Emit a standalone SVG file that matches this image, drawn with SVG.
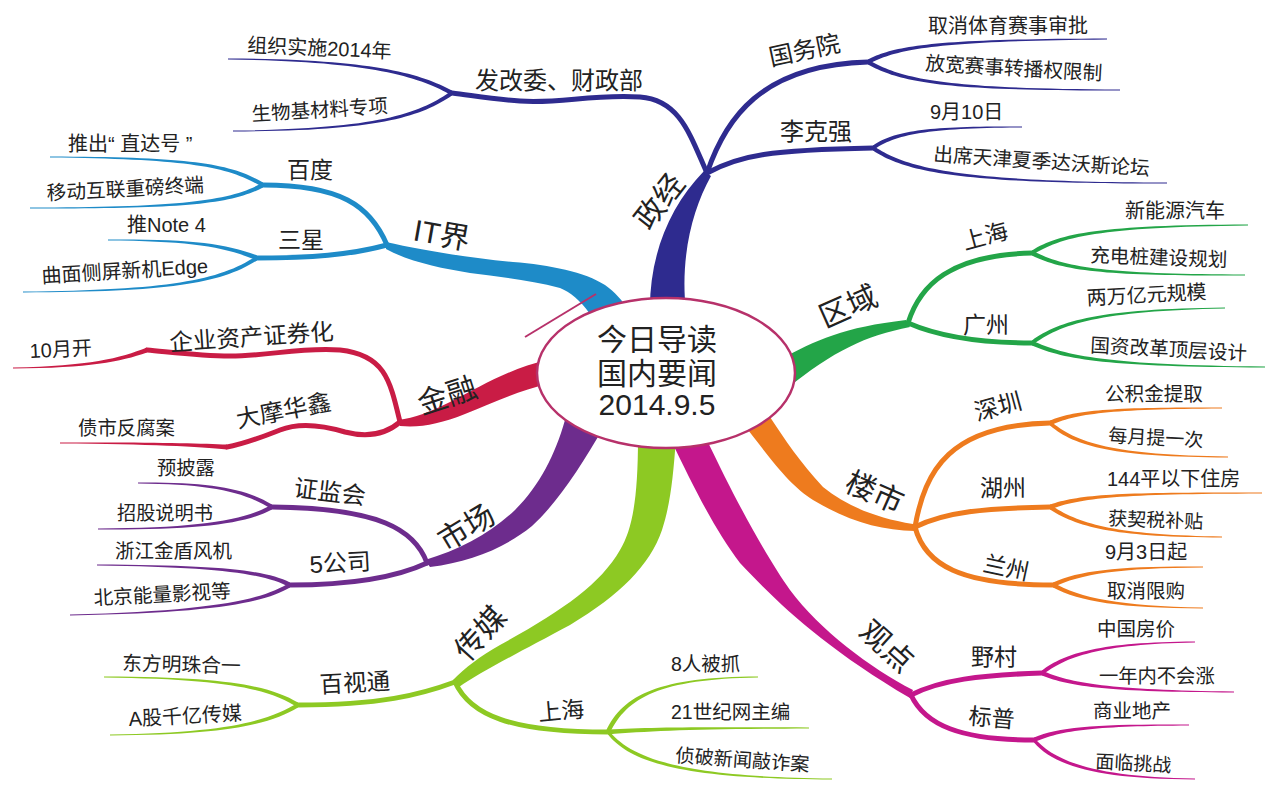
<svg xmlns="http://www.w3.org/2000/svg" width="1280" height="802" viewBox="0 0 1280 802">
<style>
text{font-family:"Liberation Sans","Noto Sans CJK SC",sans-serif;fill:#222}
.leaf{font-size:20px}
.sub{font-size:24px}
.main{font-size:30px;text-anchor:middle}
.center{font-size:30px;text-anchor:middle}
.s{fill:none;stroke:currentColor;stroke-width:5;stroke-linecap:round;stroke-linejoin:round}
.t,.l{fill:currentColor}
.zj{color:#2e2b8f}.it{color:#1e8bc8}.qy{color:#23a548}.ls{color:#ee7b1e}
.gd{color:#c4178c}.cm{color:#8dc923}.sc{color:#6d2c8d}.jr{color:#c91c45}
</style>
<rect width="1280" height="802" fill="#fff"/>
<g id="connectors">
<g class="zj">
<path class="t" d="M650,312 C649,258 668,208 704,171 L711,176 C692,210 680,258 686,312 Z"/>
<path class="s" d="M707,173 C690,135 680,100 640,97 C590,94 560,104 520,101 C490,99 470,95 452,93"/>
<path class="s" d="M707,173 C725,120 760,65 868,62"/>
<path class="s" d="M707,173 C740,155 770,150 873,148"/>
<path class="l" d="M452,90.5 C420,73.2 370,59 228,58.5 L228,59.5 C370,61 420,76.8 452,95.5Z"/>
<path class="l" d="M452,90.5 C420,113.2 380,129 233,130.5 L233,131.5 C380,131 420,116.8 452,95.5Z"/>
<path class="l" d="M868,59.5 C895,46.2 930,39 1107,38.5 L1107,39.5 C930,41 895,49.8 868,64.5Z"/>
<path class="l" d="M868,59.5 C900,78.2 940,89 1120,89.5 L1120,90.5 C940,91 900,81.8 868,64.5Z"/>
<path class="l" d="M873,145.5 C895,130.2 930,126 1022,126.5 L1022,127.5 C930,128 895,133.8 873,150.5Z"/>
<path class="l" d="M873,145.5 C905,168.2 960,182 1167,182.5 L1167,183.5 C960,184 905,171.8 873,150.5Z"/>
</g>
<g class="it">
<path class="t" d="M386,242 C420,250 470,258 513,262 C550,265 585,272 605,285 C615,292 622,300 630,312 L590,314 C580,300 570,292 560,288 C530,280 500,277 470,273 C440,268 410,262 386,249 Z"/>
<path class="s" d="M387,245 C370,205 340,185 263,185"/>
<path class="s" d="M387,245 C350,255 310,258 257,258"/>
<path class="l" d="M263,182.5 C230,163.2 190,157 50,156.5 L50,157.5 C190,159 230,166.8 263,187.5Z"/>
<path class="l" d="M263,182.5 C230,201.2 180,207 30,207.5 L30,208.5 C180,209 230,204.8 263,187.5Z"/>
<path class="l" d="M257,255.5 C225,243.2 190,239 108,239.5 L108,240.5 C190,241 225,246.8 257,260.5Z"/>
<path class="l" d="M257,255.5 C220,280.2 170,290 23,291.5 L23,292.5 C170,292 220,283.8 257,260.5Z"/>
</g>
<g class="qy">
<path class="t" d="M780,360 C815,340 845,327 906,320 L910,327 C865,336 835,350 785,390 Z"/>
<path class="s" d="M908,323 C920,285 950,255 1032,253"/>
<path class="s" d="M908,323 C940,337 980,343 1032,343"/>
<path class="l" d="M1032,250.5 C1060,233.2 1100,225 1248,224.5 L1248,225.5 C1100,227 1060,236.8 1032,255.5Z"/>
<path class="l" d="M1032,250.5 C1065,268.2 1110,274 1245,274.5 L1245,275.5 C1110,276 1065,271.8 1032,255.5Z"/>
<path class="l" d="M1032,340.5 C1060,320.2 1100,309 1225,307.5 L1225,308.5 C1100,311 1060,323.8 1032,345.5Z"/>
<path class="l" d="M1032,340.5 C1065,356.2 1110,365 1265,366.5 L1265,367.5 C1110,367 1065,359.8 1032,345.5Z"/>
</g>
<g class="ls">
<path class="t" d="M768,414 C785,440 800,462 823,487 C845,505 875,518 913,524 L915,531 C880,530 850,522 813,500 C790,485 775,465 742,422 Z"/>
<path class="s" d="M915,527 C925,470 950,425 1050,423"/>
<path class="s" d="M915,527 C945,512 985,508 1050,507"/>
<path class="s" d="M915,527 C925,565 960,585 1053,585"/>
<path class="l" d="M1050,420.5 C1075,410.2 1110,407 1222,407.5 L1222,408.5 C1110,409 1075,413.8 1050,425.5Z"/>
<path class="l" d="M1050,420.5 C1075,443.2 1115,455 1228,456.5 L1228,457.5 C1115,457 1075,446.8 1050,425.5Z"/>
<path class="l" d="M1050,504.5 C1080,494.2 1120,492 1262,492.5 L1262,493.5 C1120,494 1080,497.8 1050,509.5Z"/>
<path class="l" d="M1050,504.5 C1080,525.2 1120,535 1222,536.5 L1222,537.5 C1120,537 1080,528.8 1050,509.5Z"/>
<path class="l" d="M1053,582.5 C1080,570.2 1120,566 1203,566.5 L1203,567.5 C1120,568 1080,573.8 1053,587.5Z"/>
<path class="l" d="M1053,582.5 C1080,598.2 1120,606 1203,607.5 L1203,608.5 C1120,608 1080,601.8 1053,587.5Z"/>
</g>
<g class="gd">
<path class="t" d="M670,438 C695,490 715,530 740,563 C775,600 820,645 910,698 L913,690 C870,668 820,630 790,590 C770,562 740,510 706,438 Z"/>
<path class="s" d="M911,695 C940,680 980,675 1042,673"/>
<path class="s" d="M911,695 C925,725 960,740 1034,740"/>
<path class="l" d="M1042,670.5 C1065,653.2 1100,642 1195,641.5 L1195,642.5 C1100,644 1065,656.8 1042,675.5Z"/>
<path class="l" d="M1042,670.5 C1070,683.2 1110,690 1234,691.5 L1234,692.5 C1110,692 1070,686.8 1042,675.5Z"/>
<path class="l" d="M1034,737.5 C1060,726.2 1100,724 1189,724.5 L1189,725.5 C1100,726 1060,729.8 1034,742.5Z"/>
<path class="l" d="M1034,737.5 C1055,763.2 1100,777 1195,778.5 L1195,779.5 C1100,779 1055,766.8 1034,742.5Z"/>
</g>
<g class="cm">
<path class="t" d="M638,438 C638,500 632,530 620,550 C600,585 560,612 500,645 C480,656 465,668 453,680 L459,687 C480,672 520,652 570,625 C620,595 650,565 662,530 C670,505 673,480 676,438 Z"/>
<path class="s" d="M455,682 C420,695 380,705 298,705"/>
<path class="s" d="M455,682 C470,715 510,732 608,732"/>
<path class="l" d="M606,731 C623,694.5 660,677 758,676.5 L758,677.5 C660,679 627,697.5 610,733Z"/>
<path class="l" d="M608,729.5 C650,727.2 700,727 809,727.5 L809,728.5 C700,729 650,730.8 608,734.5Z"/>
<path class="l" d="M608,729.5 C630,758.2 680,777 832,778.5 L832,779.5 C680,779 630,761.8 608,734.5Z"/>
<path class="l" d="M298,702.5 C270,686.2 230,677 104,676.5 L104,677.5 C230,679 270,689.8 298,707.5Z"/>
<path class="l" d="M298,702.5 C270,720.2 230,733 110,734.5 L110,735.5 C230,735 270,723.8 298,707.5Z"/>
</g>
<g class="sc">
<path class="t" d="M565,420 C555,455 540,485 515,510 C492,532 460,550 425,560 L430,567 C470,562 505,548 532,526 C558,502 580,468 605,425 Z"/>
<path class="s" d="M427,563 C415,530 380,508 272,507"/>
<path class="s" d="M427,563 C395,578 350,585 290,585"/>
<path class="l" d="M272,504.5 C245,488.2 210,482 138,482.5 L138,483.5 C210,484 245,491.8 272,509.5Z"/>
<path class="l" d="M272,504.5 C245,520.2 200,528 98,528.5 L98,529.5 C200,530 245,523.8 272,509.5Z"/>
<path class="l" d="M290,582.5 C265,570.2 220,565 97,564.5 L97,565.5 C220,567 265,573.8 290,587.5Z"/>
<path class="l" d="M290,582.5 C265,598.2 220,611 70,614.5 L70,615.5 C220,613 265,601.8 290,587.5Z"/>
</g>
<g class="jr">
<path class="t" d="M548,360 C510,368 480,387 450,402 C430,412 415,418 398,420 L400,426 C420,428 440,424 465,414 C495,402 520,390 548,384 Z"/>
<path class="s" d="M400,422 C390,380 385,355 340,350 C300,347 270,356 230,356 C200,356 170,352 147,350"/>
<path class="s" d="M400,422 C385,435 365,437 345,432 C325,426 300,422 280,430 C262,437 245,444 227,447"/>
<path class="l" d="M147,347.5 C120,358.2 90,366 13,367.5 L13,368.5 C90,368 120,361.8 147,352.5Z"/>
<path class="l" d="M227,444.5 C200,443.2 150,442 60,442.5 L60,443.5 C150,444 200,446.8 227,449.5Z"/>
</g>
</g>
<g id="center">
<ellipse cx="666" cy="373" rx="129" ry="75" fill="#fff" stroke="#b7316a" stroke-width="2.5"/>
<path d="M525,337 L596,294" fill="none" stroke="#b7316a" stroke-width="2"/>
<text class="center" x="657" y="350">今日导读</text>
<text class="center" x="657" y="384">国内要闻</text>
<text class="center" x="657" y="415">2014.9.5</text>
</g>
<g id="n-zhengjing"><text class="main" transform="translate(659,201) rotate(-52)" y="11">政经</text></g>
<g id="n-itjie"><text class="main" style="text-anchor:start" x="412" y="240" transform="rotate(10 412 240)">IT界</text></g>
<g id="n-quyu"><text class="main" transform="translate(848,306) rotate(-24)" y="11">区域</text></g>
<g id="n-loushi"><text class="main" transform="translate(875,492) rotate(24)" y="11">楼市</text></g>
<g id="n-guandian"><text class="main" transform="translate(887,646) rotate(42)" y="11">观点</text></g>
<g id="n-chuanmei"><text class="main" transform="translate(480,633) rotate(-48)" y="11">传媒</text></g>
<g id="n-shichang"><text class="main" transform="translate(466,527) rotate(-31)" y="11">市场</text></g>
<g id="n-jinrong"><text class="main" transform="translate(447,395) rotate(-18)" y="11">金融</text></g>
<g id="n-fagaiwei"><text class="sub" x="475" y="89">发改委、财政部</text></g>
<g id="n-guowuyuan"><text class="sub" x="771" y="66" transform="rotate(-12 771 66)">国务院</text></g>
<g id="n-likeqiang"><text class="sub" x="780" y="140">李克强</text></g>
<g id="n-baidu"><text class="sub" x="287" y="178" style="font-size:23px">百度</text></g>
<g id="n-sanxing"><text class="sub" x="278" y="248" style="font-size:23px">三星</text></g>
<g id="n-shanghai1"><text class="sub" x="965" y="250" style="font-size:23px" transform="rotate(-15 965 250)">上海</text></g>
<g id="n-guangzhou"><text class="sub" x="963" y="333" style="font-size:23px">广州</text></g>
<g id="n-shenzhen"><text class="sub" x="977" y="421" transform="rotate(-15 977 421)">深圳</text></g>
<g id="n-huzhou"><text class="sub" x="980" y="496" style="font-size:23px">湖州</text></g>
<g id="n-lanzhou"><text class="sub" x="982" y="571" style="font-size:23px" transform="rotate(12 982 571)">兰州</text></g>
<g id="n-yecun"><text class="sub" x="971" y="665" style="font-size:23px">野村</text></g>
<g id="n-biaopu"><text class="sub" x="968" y="724" style="font-size:23px" transform="rotate(5 968 724)">标普</text></g>
<g id="n-shanghai2"><text class="sub" x="539" y="721" style="font-size:23px" transform="rotate(-5 539 721)">上海</text></g>
<g id="n-baishitong"><text class="sub" x="320" y="693" style="font-size:23.5px" transform="rotate(-3 320 693)">百视通</text></g>
<g id="n-zhengjianhui"><text class="sub" x="293" y="496" transform="rotate(7 293 496)">证监会</text></g>
<g id="n-5gongsi"><text class="sub" x="310" y="573" transform="rotate(-3 310 573)">5公司</text></g>
<g id="n-qiye"><text class="sub" x="170" y="351" style="font-size:23.5px" transform="rotate(-4 170 351)">企业资产证券化</text></g>
<g id="n-damo"><text class="sub" x="238" y="428" transform="rotate(-11 238 428)">大摩华鑫</text></g>
<g id="n-l1"><text class="leaf" x="247" y="52" transform="rotate(2.5 247 52)">组织实施2014年</text></g>
<g id="n-l2"><text class="leaf" x="252" y="121" style="font-size:19.5px" transform="rotate(-3.5 252 121)">生物基材料专项</text></g>
<g id="n-l3"><text class="leaf" x="68" y="151">推出“ 直达号 ”</text></g>
<g id="n-l4"><text class="leaf" x="47" y="200" style="font-size:19.7px" transform="rotate(-3 47 200)">移动互联重磅终端</text></g>
<g id="n-l5"><text class="leaf" x="127" y="232">推Note 4</text></g>
<g id="n-l6"><text class="leaf" x="42" y="283" transform="rotate(-3.5 42 283)">曲面侧屏新机Edge</text></g>
<g id="n-l7"><text class="leaf" x="928" y="33">取消体育赛事审批</text></g>
<g id="n-l8"><text class="leaf" x="925" y="70" style="font-size:19.7px" transform="rotate(3.3 925 70)">放宽赛事转播权限制</text></g>
<g id="n-l9"><text class="leaf" x="930" y="119">9月10日</text></g>
<g id="n-l10"><text class="leaf" x="933" y="161" style="font-size:19.7px" transform="rotate(3.8 933 161)">出席天津夏季达沃斯论坛</text></g>
<g id="n-l11"><text class="leaf" x="1125" y="218">新能源汽车</text></g>
<g id="n-l12"><text class="leaf" x="1090" y="262" style="font-size:19.6px" transform="rotate(2 1090 262)">充电桩建设规划</text></g>
<g id="n-l13"><text class="leaf" x="1087" y="305" transform="rotate(-3 1087 305)">两万亿元规模</text></g>
<g id="n-l14"><text class="leaf" x="1090" y="352" style="font-size:19.6px" transform="rotate(3 1090 352)">国资改革顶层设计</text></g>
<g id="n-l15"><text class="leaf" x="1105" y="401" style="font-size:19.6px">公积金提取</text></g>
<g id="n-l16"><text class="leaf" x="1108" y="442" style="font-size:19px" transform="rotate(3 1108 442)">每月提一次</text></g>
<g id="n-l17"><text class="leaf" x="1107" y="486">144平以下住房</text></g>
<g id="n-l18"><text class="leaf" x="1108" y="525" style="font-size:19px" transform="rotate(2 1108 525)">获契税补贴</text></g>
<g id="n-l19"><text class="leaf" x="1105" y="559">9月3日起</text></g>
<g id="n-l20"><text class="leaf" x="1107" y="598" style="font-size:19.5px">取消限购</text></g>
<g id="n-l21"><text class="leaf" x="1097" y="636" style="font-size:19.5px">中国房价</text></g>
<g id="n-l22"><text class="leaf" x="1099" y="683" style="font-size:19.3px">一年内不会涨</text></g>
<g id="n-l23"><text class="leaf" x="1093" y="718" style="font-size:19.5px">商业地产</text></g>
<g id="n-l24"><text class="leaf" x="1095" y="768" style="font-size:19px" transform="rotate(3 1095 768)">面临挑战</text></g>
<g id="n-l25"><text class="leaf" x="671" y="671" style="font-size:19.5px">8人被抓</text></g>
<g id="n-l26"><text class="leaf" x="671" y="719" style="font-size:19.5px">21世纪网主编</text></g>
<g id="n-l27"><text class="leaf" x="675" y="762" style="font-size:19.2px" transform="rotate(4 675 762)">侦破新闻敲诈案</text></g>
<g id="n-l28"><text class="leaf" x="122" y="670" style="font-size:19.8px" transform="rotate(1.5 122 670)">东方明珠合一</text></g>
<g id="n-l29"><text class="leaf" x="129" y="726" transform="rotate(-3 129 726)">A股千亿传媒</text></g>
<g id="n-l30"><text class="leaf" x="157" y="475" style="font-size:19.3px">预披露</text></g>
<g id="n-l31"><text class="leaf" x="117" y="520" style="font-size:19.2px">招股说明书</text></g>
<g id="n-l32"><text class="leaf" x="115" y="558" style="font-size:19.5px">浙江金盾风机</text></g>
<g id="n-l33"><text class="leaf" x="94" y="605" style="font-size:19.6px" transform="rotate(-3 94 605)">北京能量影视等</text></g>
<g id="n-l34"><text class="leaf" x="30" y="358" transform="rotate(-3 30 358)">10月开</text></g>
<g id="n-l35"><text class="leaf" x="78" y="435" style="font-size:19.4px">债市反腐案</text></g>
</svg>
